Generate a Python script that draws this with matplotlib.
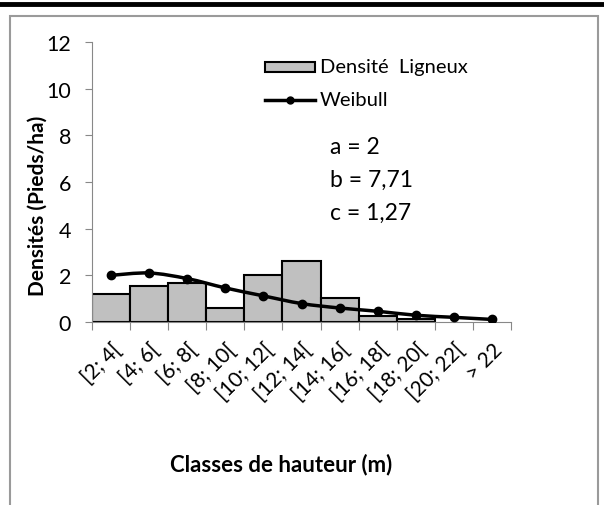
import numpy as np
import matplotlib.pyplot as plt
import matplotlib.transforms as mtransforms
from matplotlib.path import Path
from matplotlib.patches import PathPatch, Rectangle
from matplotlib.lines import Line2D

plt.rcParams['font.family'] = ['Lato', 'DejaVu Sans']

# data
classes = ['[2; 4[', '[4; 6[', '[6; 8[', '[8; 10[', '[10; 12[', '[12; 14[',
           '[14; 16[', '[16; 18[', '[18; 20[', '[20; 22[', '> 22']
densite = [1.21, 1.53, 1.69, 0.60, 2.00, 2.62, 1.03, 0.26, 0.14]
weibull = [2.00, 2.10, 1.86, 1.46, 1.12, 0.79, 0.60, 0.46, 0.29, 0.20, 0.11]
params = ['a = 2', 'b = 7,71', 'c = 1,27']

fig = plt.figure(figsize=(6.04, 5.06), dpi=100)
ax = fig.add_axes([92/604, 1-323/506, 419/604, 280/506])

# outer frame like the source document
fig.add_artist(Line2D([0, 1], [1-5/506, 1-5/506], color='black', lw=3.5,
                      transform=fig.transFigure))
fig.add_artist(Rectangle((10/604, -0.1), 588/604, 1.1-17/506, fill=False,
                         edgecolor='#9a9a9a', lw=1.5, transform=fig.transFigure))

x = np.arange(len(classes))
ax.bar(x[:len(densite)], densite, width=1.0, color='#c0c0c0',
       edgecolor='black', linewidth=1.5, zorder=2)

# smoothed line (Catmull-Rom as cubic Bezier)
wx = x.astype(float)
wy = np.array(weibull)
verts = [(wx[0], wy[0])]
codes = [Path.MOVETO]
for i in range(len(wx) - 1):
    p0 = (wx[max(i-1, 0)], wy[max(i-1, 0)])
    p1 = (wx[i], wy[i])
    p2 = (wx[i+1], wy[i+1])
    p3 = (wx[min(i+2, len(wx)-1)], wy[min(i+2, len(wx)-1)])
    c1 = (p1[0] + (p2[0]-p0[0])/6, p1[1] + (p2[1]-p0[1])/6)
    c2 = (p2[0] - (p3[0]-p1[0])/6, p2[1] - (p3[1]-p1[1])/6)
    verts += [c1, c2, p2]
    codes += [Path.CURVE4] * 3
ax.add_patch(PathPatch(Path(verts, codes), fill=False, edgecolor='black',
                       lw=2.5, zorder=3))
ax.plot(wx, wy, 'o', color='black', ms=6, zorder=4)

ax.set_xlim(-0.5, len(classes) - 0.5)
ax.set_ylim(0, 12)
ax.set_yticks(range(0, 13, 2))
ax.set_xticks(np.arange(len(classes) + 1) - 0.5)
ax.set_xticklabels([])
ax.set_xticks(x, minor=True)
ax.set_xticklabels(classes, minor=True, rotation=45, ha='right',
                   rotation_mode='anchor', fontsize=15)
shift = mtransforms.ScaledTranslation(10/100, 0, fig.dpi_scale_trans)
for lab in ax.get_xticklabels(minor=True):
    lab.set_transform(lab.get_transform() + shift)
ax.tick_params(axis='x', which='minor', length=0, pad=12)
ax.tick_params(axis='x', which='major', length=6, color='#888888', direction='out')
ax.tick_params(axis='y', length=5, color='#888888', labelsize=15.5, pad=10)

for s in ['top', 'right']:
    ax.spines[s].set_visible(False)
ax.spines['left'].set_color('#888888')
ax.spines['bottom'].set_color('#888888')

fig.text(38/604, 1-206/506, 'Densités (Pieds/ha)', fontsize=15,
         fontweight='bold', rotation=90, ha='center', va='center')
fig.text(281/604, 1-465/506, 'Classes de hauteur (m)', fontsize=16,
         fontweight='bold', ha='center', va='center')

# legend
fig.add_artist(Rectangle((265/604, 1-73/506), 50/604, 10/506, facecolor='#c0c0c0',
                         edgecolor='black', lw=1.5, transform=fig.transFigure))
fig.text(320/604, 1-68/506, 'Densité  Ligneux', fontsize=14.5, va='center')
fig.add_artist(Line2D([265/604, 315/604], [1-101/506, 1-101/506], color='black',
                      lw=2.5, transform=fig.transFigure))
fig.add_artist(Line2D([290/604], [1-101/506], color='black', marker='o', ms=5,
                      transform=fig.transFigure))
fig.text(320/604, 1-101/506, 'Weibull', fontsize=14.5, va='center')

for i, t in enumerate(params):
    fig.text(330/604, 1-(147+33*i)/506, t, fontsize=16.5, va='center')

fig.savefig('out.png', dpi=100)
